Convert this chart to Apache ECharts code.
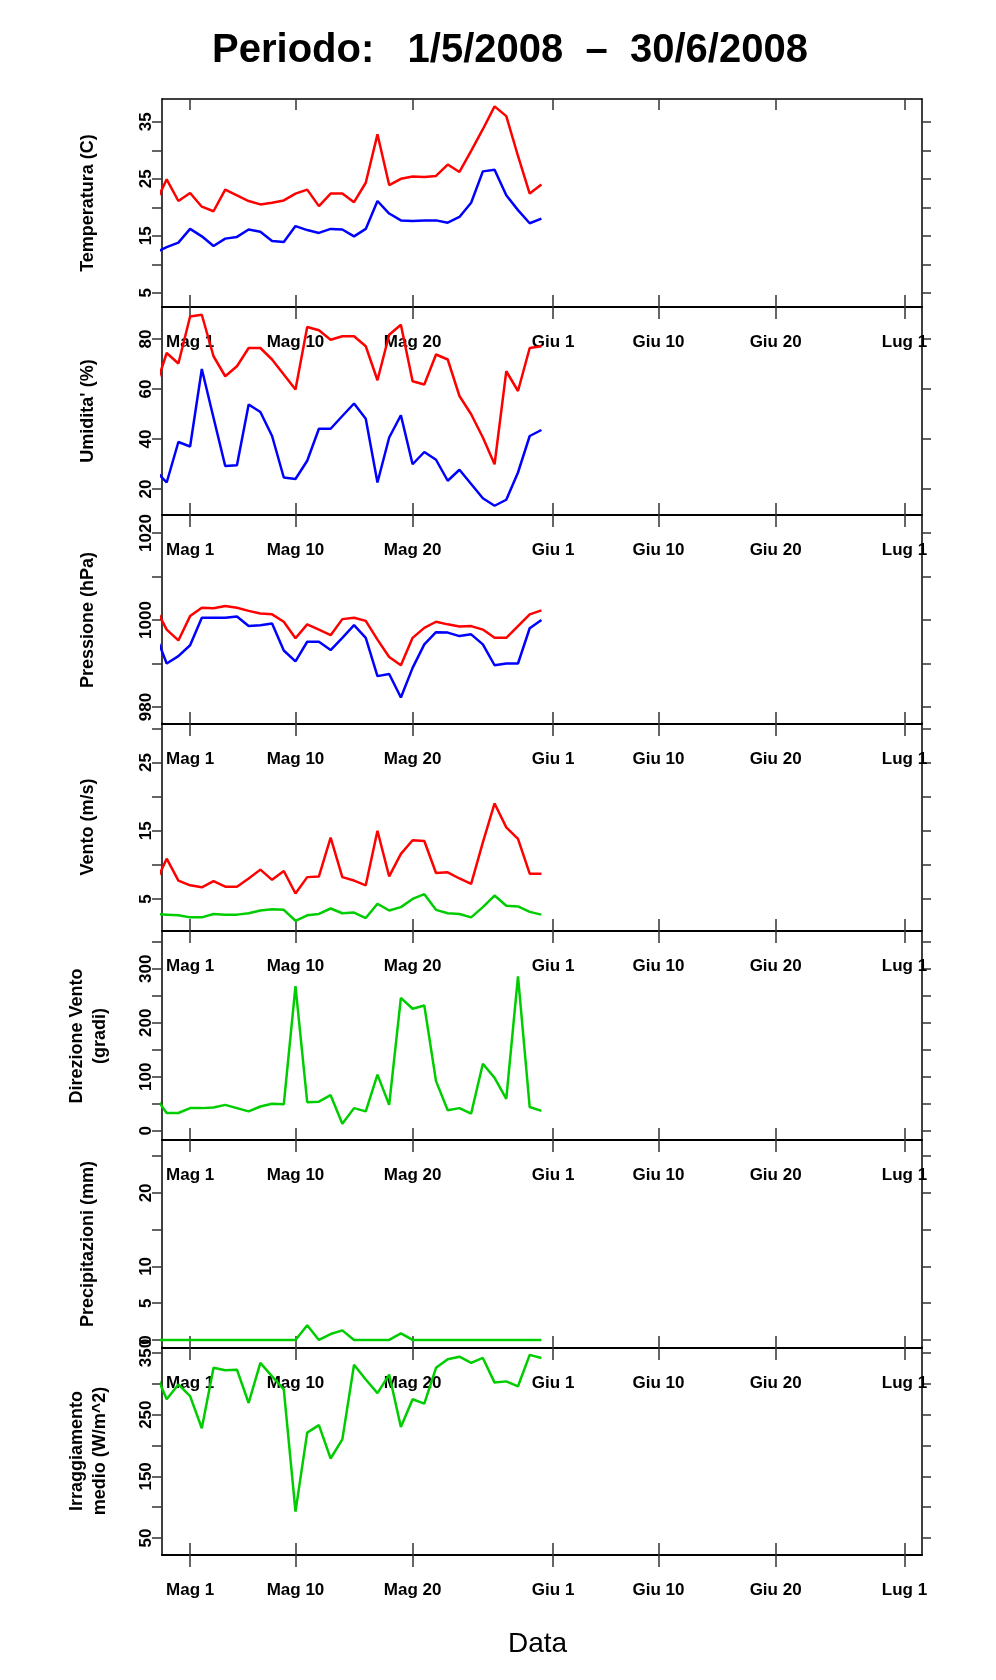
<!DOCTYPE html>
<html lang="it">
<head>
<meta charset="UTF-8">
<title>Periodo 1/5/2008 - 30/6/2008</title>
<script src="https://cdn.jsdelivr.net/npm/echarts@6/dist/echarts.min.js"></script>
<style>
  body { margin: 0; background: #fff; }
  #chart { width: 996px; height: 1680px; }
</style>
</head>
<body>
<div id="chart"></div>
<script>
// giorni rispetto al 1 maggio (0 = Mag 1), dal 28 aprile al 31 maggio
const days = [];
for (let d = -3; d <= 30; d++) days.push(d);

// etichette asse x
const tickDays = [0, 9, 19, 31, 40, 50, 61];
const tickNames = ['Mag 1', 'Mag 10', 'Mag 20', 'Giu 1', 'Giu 10', 'Giu 20', 'Lug 1'];

// dati giornalieri
const tempMax = [20.6, 24.9, 21.1, 22.5, 20.1, 19.3, 23.1, 22.1, 21.1, 20.5, 20.8, 21.2, 22.4, 23.1, 20.2, 22.4, 22.4,
  20.9, 24.3, 32.8, 23.9, 25.0, 25.4, 25.3, 25.5, 27.5, 26.2, 29.9, 33.7, 37.7, 36.0, 29.0, 22.4, 24.0];
const tempMin = [12.0, 13.0, 13.8, 16.2, 14.9, 13.2, 14.5, 14.8, 16.1, 15.7, 14.1, 13.9, 16.7, 16.0, 15.5, 16.2, 16.1,
  14.9, 16.2, 21.1, 18.9, 17.7, 17.6, 17.7, 17.7, 17.3, 18.3, 20.8, 26.3, 26.6, 22.1, 19.5, 17.2, 18.0];
const umidMax = [60, 74.4, 70.2, 89, 89.7, 73.1, 65.1, 69.1, 76.4, 76.4, 71.8, 65.8, 59.8, 84.8, 83.5, 79.7, 81.1,
  81.1, 77.1, 63.5, 81.7, 85.7, 63.1, 61.8, 73.8, 71.8, 57.2, 49.9, 40.6, 29.9, 67.1, 59.2, 76.4, 77.1];
const umidMin = [27.6, 22.6, 38.8, 37, 68, 48.5, 29.2, 29.5, 53.8, 50.8, 41.2, 24.6, 24, 31.3, 44.1, 44.1, 49.2,
  54.2, 48.1, 22.6, 40.6, 49.5, 29.9, 34.8, 31.7, 23.3, 27.7, 22, 16.3, 13.3, 15.7, 26.6, 41.2, 43.6];
const pressMax = [1003, 997.8, 995.3, 1000.9, 1002.8, 1002.7, 1003.2, 1002.8, 1002.1, 1001.5, 1001.3, 999.6, 995.8, 999,
  997.8, 996.5, 1000.2, 1000.5, 999.8, 995.5, 991.5, 989.6, 995.9, 998.2, 999.6, 999, 998.5, 998.6, 997.8, 995.9,
  995.9, 998.6, 1001.3, 1002.2];
const pressMin = [997, 990, 991.7, 994.2, 1000.5, 1000.5, 1000.5, 1000.8, 998.6, 998.8, 999.2, 993, 990.5, 995, 995,
  993.1, 995.9, 998.8, 995.9, 987.1, 987.6, 982.2, 989, 994.4, 997.2, 997.1, 996.3, 996.7, 994.4, 989.6, 990, 990,
  998.1, 1000];
const ventoMax = [7.2, 10.9, 7.7, 7, 6.7, 7.6, 6.8, 6.8, 8, 9.3, 7.8, 9.1, 5.8, 8.2, 8.3, 14, 8.2, 7.7, 7, 15, 8.3,
  11.6, 13.6, 13.5, 8.8, 8.9, 8, 7.2, 13.3, 19, 15.5, 13.8, 8.7, 8.7];
const ventoMedio = [2.8, 2.7, 2.6, 2.3, 2.3, 2.8, 2.7, 2.7, 2.9, 3.3, 3.5, 3.4, 1.8, 2.6, 2.8, 3.6, 2.9, 3, 2.2, 4.3,
  3.3, 3.8, 5, 5.7, 3.4, 2.9, 2.8, 2.3, 3.8, 5.5, 4, 3.9, 3.1, 2.7];
const direzione = [63, 33, 33, 42, 42, 43, 48, 42, 36, 45, 50, 49, 268, 53, 54, 66, 13, 42, 36, 104, 48, 246, 226,
  232, 92, 38, 42, 32, 124, 98, 59, 286, 44, 37];
const pioggia = [0, 0, 0, 0, 0, 0, 0, 0, 0, 0, 0, 0, 0, 2.0, 0, 0.8, 1.3, 0, 0, 0, 0, 0.9, 0, 0, 0, 0, 0, 0, 0, 0,
  0, 0, 0, 0];
const irragg = [320, 275, 299, 280, 228, 326, 322, 323, 269, 334, 312, 291, 93, 221, 233, 179, 210, 331, 307, 285,
  315, 230, 275, 268, 326, 340, 344, 334, 342, 302, 304, 296, 347, 342];

const RED = '#ff0000', BLUE = '#0000ff', GREEN = '#00cd00';
const FONT = 'Liberation Sans';

const panels = [
  { name: "Temperatura (C)", min: 2.5, max: 39, ticks: [5, 10, 15, 20, 25, 30, 35], labels: [5, 15, 25, 35],
    series: [[tempMax, RED], [tempMin, BLUE]] },
  { name: "Umidita' (%)", min: 9.6, max: 92.8, ticks: [20, 40, 60, 80], labels: [20, 40, 60, 80],
    series: [[umidMax, RED], [umidMin, BLUE]] },
  { name: "Pressione (hPa)", min: 976.1, max: 1023.9, ticks: [980, 990, 1000, 1010, 1020], labels: [980, 1000, 1020],
    series: [[pressMax, RED], [pressMin, BLUE]] },
  { name: "Vento (m/s)", min: 0.3, max: 30.8, ticks: [5, 10, 15, 20, 25, 30], labels: [5, 15, 25],
    series: [[ventoMax, RED], [ventoMedio, GREEN]] },
  { name: "Direzione Vento\n(gradi)", min: -17, max: 368, ticks: [0, 50, 100, 150, 200, 250, 300, 350], labels: [0, 100, 200, 300],
    series: [[direzione, GREEN]] },
  { name: "Precipitazioni (mm)", min: -1.1, max: 27.2, ticks: [0, 5, 10, 15, 20, 25], labels: [0, 5, 10, 20],
    series: [[pioggia, GREEN]] },
  { name: "Irraggiamento\nmedio (W/m^2)", min: 22.6, max: 359.7, ticks: [50, 100, 150, 200, 250, 300, 350], labels: [50, 150, 250, 350],
    series: [[irragg, GREEN]] }
];

const tops = [99, 307, 516, 723, 932, 1140, 1347];
const H = 208;

const grid = [], xAxis = [], yAxis = [], series = [];
const lineCol = '#000';
const tickStyle = { color: '#333', width: 1.5 };

panels.forEach((p, i) => {
  grid.push({ left: 162, right: 74, top: tops[i], height: H });
  const xBase = { type: 'value', gridIndex: i, min: -2.4, max: 62.5, splitLine: { show: false } };
  const xi = xAxis.length;
  // asse con etichette e tacche verso il basso
  xAxis.push(Object.assign({}, xBase, {
    position: 'bottom',
    axisLine: { show: true, onZero: false, lineStyle: { color: lineCol, width: 2 } },
    axisTick: { show: true, length: 12, customValues: tickDays, lineStyle: tickStyle },
    axisLabel: { show: true, customValues: tickDays, margin: 27, color: '#000', fontFamily: FONT,
      fontWeight: 'bold', fontSize: 17,
      formatter: v => tickNames[tickDays.indexOf(v)] || '' }
  }));
  // tacche verso l'interno
  xAxis.push(Object.assign({}, xBase, {
    position: 'bottom',
    axisLine: { show: false, onZero: false },
    axisTick: { show: true, inside: true, length: 12, customValues: tickDays, lineStyle: tickStyle },
    axisLabel: { show: false }
  }));
  if (i === 0) {
    xAxis.push(Object.assign({}, xBase, {
      position: 'top',
      axisLine: { show: true, onZero: false, lineStyle: { color: lineCol, width: 1.5 } },
      axisTick: { show: true, inside: true, length: 11, customValues: tickDays, lineStyle: tickStyle },
      axisLabel: { show: false }
    }));
  }
  const yi = yAxis.length;
  const twoLines = p.name.indexOf('\n') >= 0;
  yAxis.push({
    type: 'value', gridIndex: i, min: p.min, max: p.max, position: 'left',
    name: p.name, nameLocation: 'middle', nameGap: twoLines ? 50 : 62,
    nameTextStyle: { fontFamily: FONT, fontWeight: 'bold', fontSize: 18, color: '#000', lineHeight: 23 },
    splitLine: { show: false },
    axisLine: { show: true, onZero: false, lineStyle: { color: lineCol, width: 1.5 } },
    axisTick: { show: true, length: 10, customValues: p.ticks, lineStyle: tickStyle },
    axisLabel: { show: true, customValues: p.labels, rotate: 90, margin: 16, color: '#000',
      fontFamily: FONT, fontWeight: 'bold', fontSize: 17, verticalAlign: 'middle',
      formatter: v => String(v) }
  });
  yAxis.push({
    type: 'value', gridIndex: i, min: p.min, max: p.max, position: 'right',
    splitLine: { show: false },
    axisLine: { show: true, onZero: false, lineStyle: { color: lineCol, width: 1.5 } },
    axisTick: { show: true, length: 9, customValues: p.ticks, lineStyle: tickStyle },
    axisLabel: { show: false }
  });
  p.series.forEach(([vals, col]) => {
    series.push({
      type: 'line', xAxisIndex: xi, yAxisIndex: yi, showSymbol: false, silent: true,
      clip: true, animation: false,
      lineStyle: { color: col, width: 2.5 },
      data: days.map((d, k) => [d, vals[k]])
    });
  });
});

const chart = echarts.init(document.getElementById('chart'));
chart.setOption({
  animation: false,
  backgroundColor: '#fff',
  title: {
    text: 'Periodo:   1/5/2008  –  30/6/2008',
    left: 505, top: 26, textAlign: 'center',
    textStyle: { fontFamily: FONT, fontWeight: 'bold', fontSize: 40, color: '#000' }
  },
  graphic: [{
    type: 'text', left: 508, top: 1630,
    style: { text: 'Data', fontFamily: FONT, fontSize: 28, fill: '#000' }
  }],
  grid, xAxis, yAxis, series
});
</script>
</body>
</html>
